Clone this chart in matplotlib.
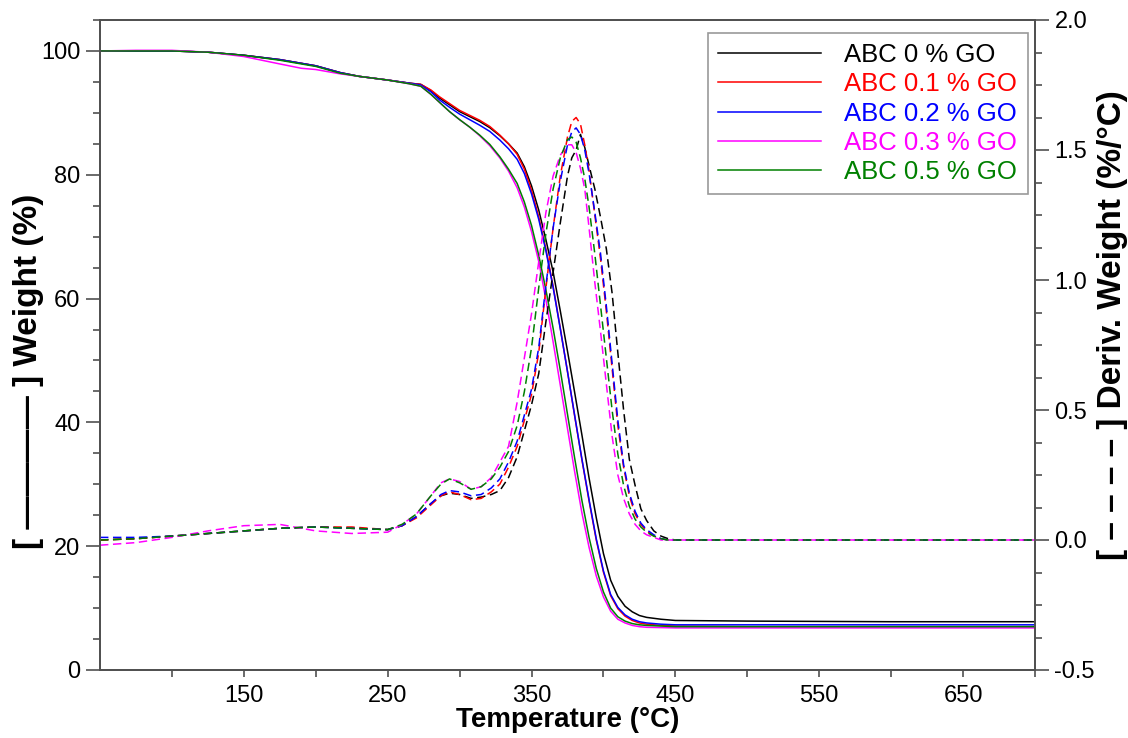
"""TGA / DTG curves of ABC composites with graphene oxide."""
import matplotlib
matplotlib.use("Agg")
import matplotlib.pyplot as plt
from matplotlib.ticker import FixedLocator, MultipleLocator
import numpy as np

plt.rcParams["font.family"] = ["Liberation Sans", "DejaVu Sans"]

labels = ["ABC 0 % GO", "ABC 0.1 % GO", "ABC 0.2 % GO", "ABC 0.3 % GO", "ABC 0.5 % GO"]
colors = ["#000000", "#ff0000", "#0000ff", "#ff00ff", "#008000"]

# weight loss (TGA), left axis
tga_temp = [50, 75, 100, 125, 150, 175, 190, 200, 217, 230, 250, 265, 273, 280, 286,
            293, 300, 307, 314, 321, 328, 334, 340, 345, 350, 355, 360, 365, 370, 375,
            380, 385, 390, 395, 400, 405, 410, 415, 420, 425, 430, 440, 450, 500, 600, 700]
tga_0 = [100.0, 100.0, 100.0, 99.8, 99.3, 98.6, 98.0, 97.6, 96.5, 95.9, 95.3, 94.8, 94.6, 93.6, 92.4,
         91.3, 90.2, 89.4, 88.6, 87.6, 86.3, 85.0, 83.5, 81.3, 78.2, 74.3, 69.5, 64.3, 58.0, 51.5,
         44.8, 38.0, 31.0, 24.6, 18.8, 14.5, 11.9, 10.3, 9.4, 8.8, 8.5, 8.2, 8.0, 7.9, 7.8, 7.8]
tga_01 = [100.0, 100.0, 100.0, 99.8, 99.3, 98.6, 98.0, 97.6, 96.5, 95.9, 95.3, 94.8, 94.6, 93.7, 92.6,
          91.5, 90.4, 89.6, 88.8, 87.8, 86.4, 85.0, 83.3, 80.9, 77.5, 73.2, 68.0, 62.0, 55.2, 48.2,
          41.0, 34.0, 27.3, 21.0, 15.8, 12.0, 9.9, 8.7, 8.0, 7.6, 7.4, 7.2, 7.1, 7.0, 7.0, 7.0]
tga_02 = [100.0, 100.0, 100.0, 99.8, 99.3, 98.6, 98.0, 97.6, 96.5, 95.9, 95.3, 94.8, 94.5, 93.4, 92.1,
          90.9, 89.8, 88.9, 88.0, 87.0, 85.6, 84.2, 82.5, 80.2, 76.9, 72.8, 67.7, 61.8, 55.1, 48.2,
          41.1, 34.1, 27.5, 21.2, 16.0, 12.2, 10.1, 8.9, 8.2, 7.8, 7.6, 7.4, 7.3, 7.3, 7.3, 7.3]
tga_03 = [100.0, 100.1, 100.1, 99.8, 99.1, 97.9, 97.2, 97.0, 96.3, 95.9, 95.3, 94.7, 94.3, 93.0, 91.7,
          90.2, 88.9, 87.7, 86.3, 84.7, 82.7, 80.6, 77.9, 74.8, 70.8, 66.0, 59.8, 53.0, 46.0, 39.0,
          32.0, 25.4, 19.8, 15.2, 11.8, 9.5, 8.2, 7.6, 7.2, 7.0, 6.9, 6.85, 6.8, 6.8, 6.8, 6.8]
tga_05 = [100.0, 100.0, 100.0, 99.8, 99.3, 98.5, 97.9, 97.5, 96.4, 95.9, 95.3, 94.7, 94.3, 93.0, 91.7,
          90.2, 88.9, 87.7, 86.4, 84.9, 82.9, 80.9, 78.6, 75.6, 71.8, 67.0, 61.4, 55.2, 48.4, 41.3,
          34.2, 27.4, 21.4, 16.4, 12.6, 10.0, 8.6, 7.9, 7.5, 7.3, 7.2, 7.1, 7.0, 7.0, 7.0, 7.0]

# derivative weight (DTG), right axis
dtg_temp = [50, 75, 100, 125, 150, 175, 200, 225, 250, 260, 270, 280, 287, 293, 300,
            308, 315, 322, 328, 334, 340, 345, 350, 355, 360, 365, 370, 375, 378, 381,
            384, 387, 390, 394, 398, 402, 406, 410, 414, 418, 422, 426, 430, 435, 440,
            445, 450, 500, 600, 700]
dtg_0 = [0.0, 0.005, 0.015, 0.025, 0.035, 0.045, 0.05, 0.045, 0.04, 0.055, 0.09, 0.14, 0.17, 0.18, 0.175,
         0.16, 0.165, 0.175, 0.19, 0.24, 0.32, 0.42, 0.52, 0.64, 0.84, 1.03, 1.22, 1.40, 1.47, 1.50,
         1.56, 1.51, 1.44, 1.35, 1.24, 1.12, 0.95, 0.72, 0.50, 0.31, 0.21, 0.12, 0.075, 0.035, 0.015,
         0.005, 0.0, 0.0, 0.0, 0.0]
dtg_01 = [0.0, 0.005, 0.015, 0.025, 0.035, 0.045, 0.05, 0.05, 0.04, 0.055, 0.085, 0.135, 0.17, 0.185, 0.175,
          0.155, 0.16, 0.185, 0.215, 0.28, 0.36, 0.46, 0.56, 0.72, 0.97, 1.20, 1.40, 1.55, 1.61, 1.625,
          1.60, 1.52, 1.42, 1.25, 1.08, 0.88, 0.66, 0.44, 0.28, 0.17, 0.10, 0.06, 0.035, 0.015, 0.005,
          0.0, 0.0, 0.0, 0.0, 0.0]
dtg_02 = [0.01, 0.01, 0.015, 0.025, 0.035, 0.045, 0.05, 0.045, 0.04, 0.055, 0.09, 0.14, 0.175, 0.19, 0.185,
          0.17, 0.175, 0.2, 0.235, 0.30, 0.38, 0.48, 0.58, 0.74, 0.98, 1.20, 1.38, 1.52, 1.57, 1.585,
          1.56, 1.50, 1.41, 1.26, 1.10, 0.90, 0.68, 0.46, 0.29, 0.18, 0.11, 0.065, 0.04, 0.02, 0.005,
          0.0, 0.0, 0.0, 0.0, 0.0]
dtg_03 = [-0.02, -0.01, 0.01, 0.035, 0.055, 0.06, 0.035, 0.025, 0.03, 0.06, 0.10, 0.17, 0.22, 0.235, 0.225,
          0.195, 0.205, 0.24, 0.30, 0.36, 0.53, 0.70, 0.87, 1.07, 1.26, 1.40, 1.48, 1.52, 1.52, 1.49,
          1.43, 1.35, 1.20, 0.99, 0.80, 0.60, 0.40, 0.25, 0.16, 0.10, 0.06, 0.035, 0.02, 0.01, 0.0,
          0.0, 0.0, 0.0, 0.0, 0.0]
dtg_05 = [0.0, 0.005, 0.015, 0.025, 0.035, 0.045, 0.05, 0.045, 0.04, 0.06, 0.10, 0.17, 0.215, 0.235, 0.22,
          0.195, 0.205, 0.235, 0.28, 0.34, 0.44, 0.57, 0.74, 0.97, 1.18, 1.35, 1.47, 1.54, 1.55, 1.53,
          1.47, 1.39, 1.28, 1.10, 0.90, 0.70, 0.50, 0.33, 0.21, 0.13, 0.08, 0.05, 0.03, 0.015, 0.005,
          0.0, 0.0, 0.0, 0.0, 0.0]

x_major = [150, 250, 350, 450, 550, 650]
x_minor = [100, 200, 300, 400, 500, 600, 700]

tga_series = [tga_0, tga_01, tga_02, tga_03, tga_05]
dtg_series = [dtg_0, dtg_01, dtg_02, dtg_03, dtg_05]

spine_color = "#505050"

fig = plt.figure(figsize=(11.28, 7.38), dpi=100)
ax = fig.add_axes([100 / 1128, 1 - 670 / 738, 935 / 1128, 650 / 738])
ax2 = ax.twinx()

lines = []
for y, c, lab in zip(tga_series, colors, labels):
    ln, = ax.plot(tga_temp, y, color=c, lw=1.1, label=lab)
    lines.append(ln)
for y, c in zip(dtg_series, colors):
    ax2.plot(dtg_temp, y, color=c, lw=1.1, dashes=(5.5, 3))

ax.set_xlim(50, 700)
ax.set_ylim(0, 105)
ax2.set_ylim(-0.5, 2.0)

ax.xaxis.set_major_locator(FixedLocator(x_major))
ax.xaxis.set_minor_locator(FixedLocator(x_minor))
ax.yaxis.set_major_locator(MultipleLocator(20))
ax.yaxis.set_minor_locator(MultipleLocator(5))
ax2.yaxis.set_major_locator(MultipleLocator(0.5))
ax2.yaxis.set_minor_locator(MultipleLocator(0.125))
ax2.yaxis.set_major_formatter(plt.FormatStrFormatter("%.1f"))

for a in (ax, ax2):
    for s in a.spines.values():
        s.set_color(spine_color)
        s.set_linewidth(1.3)
ax.tick_params(axis="x", which="major", length=5, width=1.2, color=spine_color,
               labelsize=17, pad=6)
ax.tick_params(axis="x", which="minor", length=5, width=1.2, color=spine_color)
ax.tick_params(axis="y", which="major", length=10, width=1.2, color=spine_color,
               labelsize=17, pad=4)
ax.tick_params(axis="y", which="minor", length=5, width=1.2, color=spine_color)
ax2.tick_params(axis="y", which="major", length=10, width=1.2, color=spine_color,
                labelsize=17, pad=4)
ax2.tick_params(axis="y", which="minor", length=5, width=1.2, color=spine_color)

ax.set_xlabel("Temperature (°C)", fontsize=20, fontweight="bold", labelpad=0)
ax.set_ylabel("[ ———— ] Weight (%)", fontsize=24, fontweight="bold")
ax2.set_ylabel("[ – – – – ] Deriv. Weight (%/°C)", fontsize=24, fontweight="bold")
ax.yaxis.set_label_coords(-0.060, 0.46)
ax2.yaxis.set_label_coords(1.066, 0.53)

leg = ax2.legend(handles=lines, loc="upper right", bbox_to_anchor=(0.992, 0.98),
                 fontsize=18.5, frameon=True, fancybox=False, edgecolor="#808080",
                 handlelength=4.0, handletextpad=0.9, labelspacing=0.2,
                 borderpad=0.4, borderaxespad=0.0)
leg.get_frame().set_linewidth(1.2)
for txt, c in zip(leg.get_texts(), colors):
    txt.set_color(c)

fig.savefig("out.png", dpi=100)
